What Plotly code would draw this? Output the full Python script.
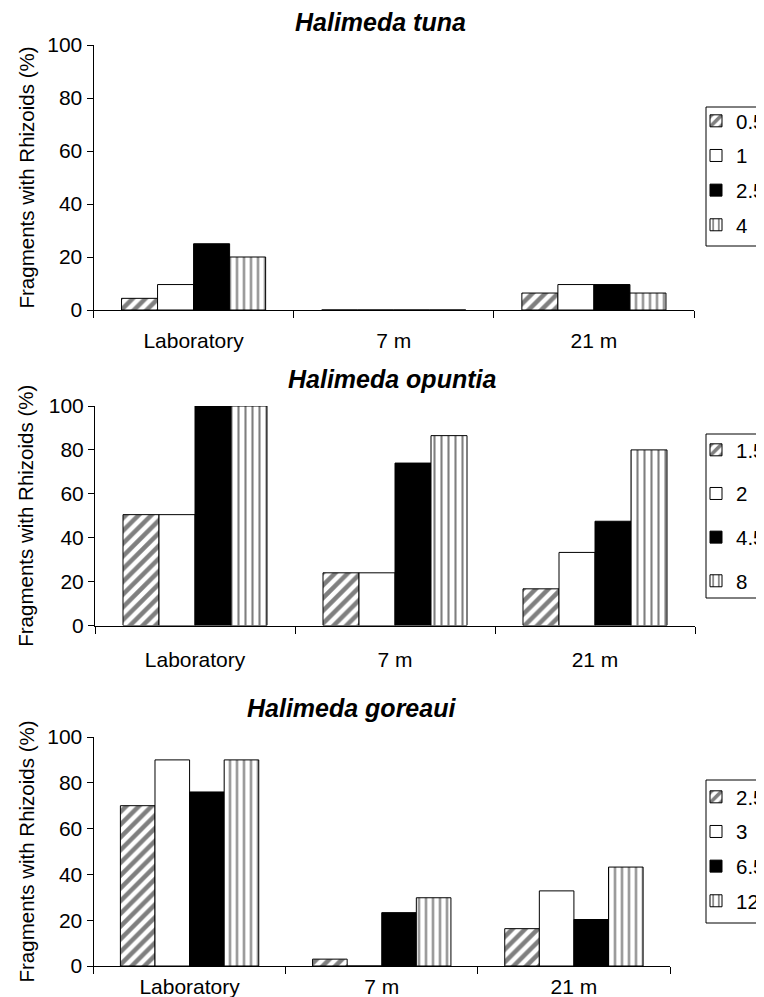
import plotly.graph_objects as go

categories = ["Laboratory", "7 m", "21 m"]

titles = ["Halimeda tuna", "Halimeda opuntia", "Halimeda goreaui"]

tuna_sizes = ["0.5", "1", "2.5", "4"]
tuna_05 = [4.4, 0, 6.4]
tuna_1 = [9.6, 0, 9.6]
tuna_25 = [25, 0, 9.6]
tuna_4 = [20, 0, 6.4]

opuntia_sizes = ["1.5", "2", "4.5", "8"]
opuntia_15 = [50.5, 24, 16.7]
opuntia_2 = [50.5, 24, 33.3]
opuntia_45 = [100, 74, 47.5]
opuntia_8 = [100, 86.5, 80]

goreaui_sizes = ["2.5", "3", "6.5", "12"]
goreaui_25 = [70, 3, 16.3]
goreaui_3 = [90, 0, 32.8]
goreaui_65 = [76, 23.3, 20.3]
goreaui_12 = [90, 29.8, 43.2]

y_title = "Fragments with Rhizoids (%)"
y_ticks = [0, 20, 40, 60, 80, 100]

W, H = 764, 997
FONT = "Arial, Liberation Sans, sans-serif"

panels = [
    dict(sizes=tuna_sizes, series=[tuna_05, tuna_1, tuna_25, tuna_4],
         x0=85.5, x1=686, ytop=37, ybot=302,
         box=(99, 238), first=113, gap=5, standoff=12,
         tcx=372, tcy=14),
    dict(sizes=opuntia_sizes, series=[opuntia_15, opuntia_2, opuntia_45, opuntia_8],
         x0=87, x1=687, ytop=398, ybot=617.5,
         box=(426, 590), first=442, gap=14, standoff=15,
         tcx=384, tcy=371),
    dict(sizes=goreaui_sizes, series=[goreaui_25, goreaui_3, goreaui_65, goreaui_12],
         x0=85.5, x1=662, ytop=729, ybot=958,
         box=(772, 915), first=789, gap=5, standoff=2,
         tcx=343, tcy=700),
]

styles = [
    dict(color="white", pattern=dict(shape="/", fgcolor="black", bgcolor="white", size=9, solidity=0.5)),
    dict(color="white", pattern=dict(shape="")),
    dict(color="black", pattern=dict(shape="")),
    dict(color="white", pattern=dict(shape="|", fgcolor="black", bgcolor="white", size=7, solidity=0.3)),
]

fig = go.Figure()
annotations = []
shapes = []
layout = {}

for i, p in enumerate(panels):
    n = "" if i == 0 else str(i + 1)
    xa, ya = "x" + n, "y" + n
    leg = "legend" + n
    for j, (name, vals) in enumerate(zip(p["sizes"], p["series"])):
        st = styles[j]
        fig.add_trace(go.Bar(
            x=categories, y=vals, name=name,
            xaxis=xa, yaxis=ya, legend=leg,
            legendgroup=f"p{i}_{j}",
            marker=dict(color=st["color"], pattern=st["pattern"],
                        line=dict(color="black", width=1)),
        ))
    layout["xaxis" + n] = dict(
        domain=[p["x0"] / W, p["x1"] / W], anchor=ya, type="category",
        showline=True, linecolor="black", linewidth=1,
        ticks="outside", tickson="boundaries", ticklen=7, tickcolor="black",
        tickfont=dict(family=FONT, size=21, color="black"),
        ticklabelstandoff=p["standoff"], showgrid=False, fixedrange=True,
    )
    layout["yaxis" + n] = dict(
        domain=[1 - p["ybot"] / H, 1 - p["ytop"] / H], anchor=xa,
        range=[0, 100], tickvals=y_ticks,
        showline=True, linecolor="black", linewidth=1,
        ticks="outside", ticklen=6, tickcolor="black",
        tickfont=dict(family=FONT, size=21, color="black"),
        showgrid=False, zeroline=False, fixedrange=True,
    )
    layout[leg] = dict(
        x=688 / W, y=1 - (p["first"] - 20) / H, xanchor="left", yanchor="top",
        borderwidth=0, bgcolor="rgba(0,0,0,0)",
        font=dict(family=FONT, size=20.5, color="black"),
        traceorder="grouped", tracegroupgap=p["gap"],
        entrywidth=36, entrywidthmode="pixels",
    )
    shapes.append(dict(
        type="rect", xref="paper", yref="paper",
        x0=698 / W, x1=1.1, y0=1 - p["box"][1] / H, y1=1 - p["box"][0] / H,
        line=dict(color="black", width=1), fillcolor="rgba(0,0,0,0)",
    ))
    annotations.append(dict(
        text="<b><i>" + titles[i] + "</i></b>", xref="paper", yref="paper",
        x=p["tcx"] / W, y=1 - p["tcy"] / H, xanchor="center", yanchor="middle",
        showarrow=False, font=dict(family=FONT, size=25, color="black"),
    ))
    annotations.append(dict(
        text=y_title, xref="paper", yref="paper", textangle=-90,
        x=18 / W, y=1 - (p["ytop"] + p["ybot"]) / 2 / H,
        xanchor="center", yanchor="middle", showarrow=False,
        font=dict(family=FONT, size=20.5, color="black"),
    ))

fig.update_layout(
    width=W, height=H,
    margin=dict(l=0, r=0, t=0, b=0, autoexpand=False),
    paper_bgcolor="white", plot_bgcolor="white",
    barmode="group", bargap=0.28, bargroupgap=0,
    annotations=annotations, shapes=shapes, showlegend=True,
    **layout,
)

fig.write_html("out.html")
